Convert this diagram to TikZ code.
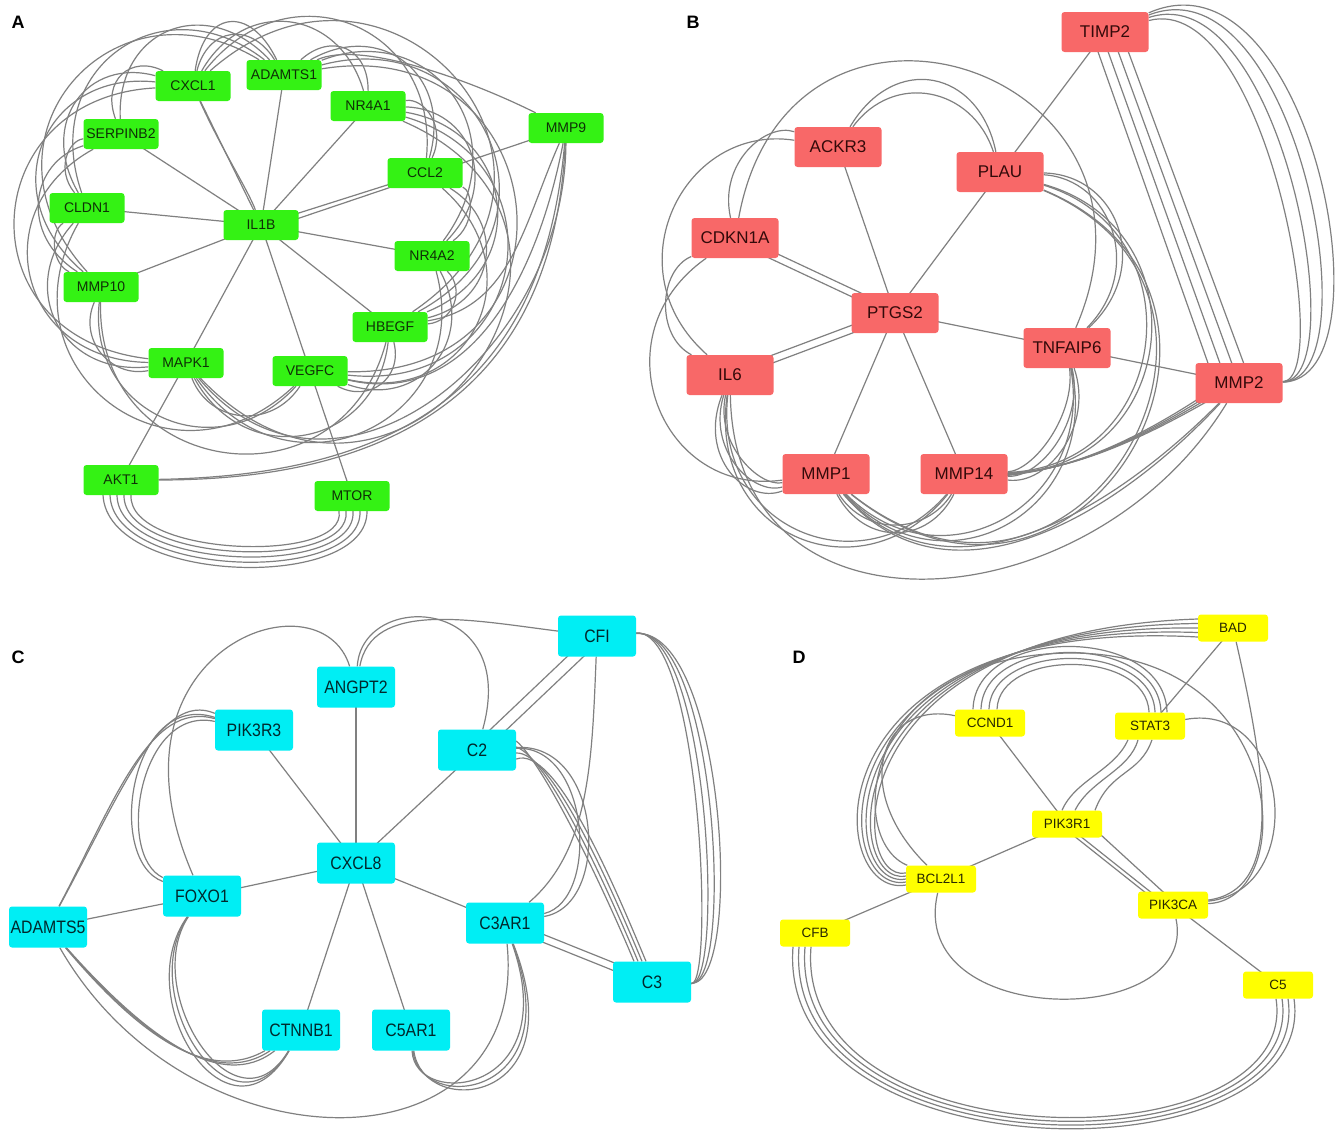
\documentclass[tikz,border=0pt]{standalone}
\usepackage{graphicx}
\usepackage{fontspec}
\setmainfont{Liberation Sans}
\usetikzlibrary{calc,backgrounds}
\definecolor{geneA}{RGB}{52,242,20}
\definecolor{geneB}{RGB}{248,104,104}
\definecolor{geneC}{RGB}{0,238,244}
\definecolor{geneD}{RGB}{255,255,0}
\definecolor{textA}{RGB}{14,48,6}
\definecolor{textB}{RGB}{52,10,10}
\definecolor{textC}{RGB}{0,40,44}
\definecolor{textD}{RGB}{40,40,0}
\definecolor{linkgray}{RGB}{128,128,128}

% curved link sweeping round the panel centre (\pcx,\pcy):
% #2,#3 nodes, #4,#5 start/end angles, #6 sweep radius
\newcommand\arcE[6][]{%
  \pgfmathsetmacro\lkh{4/3*tan((#5-#4)/4)*#6}%
  \pgfmathsetmacro\lkd{atan(\lkh/(#6))}%
  \pgfmathsetmacro\lkr{(#6)/cos(\lkd)}%
  \pgfmathsetmacro\lkax{\pcx+\lkr*\pex*cos(#4+\lkd)}%
  \pgfmathsetmacro\lkay{\pcy+\lkr*\pey*sin(#4+\lkd)}%
  \pgfmathsetmacro\lkbx{\pcx+\lkr*\pex*cos(#5-\lkd)}%
  \pgfmathsetmacro\lkby{\pcy+\lkr*\pey*sin(#5-\lkd)}%
  \draw[link,#1] (#2) .. controls (\lkax,\lkay) and (\lkbx,\lkby) .. (#3);%
}
\newcommand\cond[1]{\scalebox{0.88}[1]{#1}}

\begin{document}
\begin{tikzpicture}[x=1pt,y=-1pt,
  link/.style={draw=linkgray,line width=1.2pt},
  gene/.style={rounded corners=3pt,inner sep=0pt},
  gA/.style={gene,fill=geneA,text=textA,minimum width=75pt,minimum height=30pt,font=\fontsize{14}{14}\selectfont},
  gB/.style={gene,fill=geneB,text=textB,minimum width=87pt,minimum height=40pt,font=\fontsize{17}{17}\selectfont},
  gC/.style={gene,fill=geneC,text=textC,minimum width=78pt,minimum height=41pt,font=\fontsize{18}{18}\selectfont},
  gD/.style={gene,fill=geneD,text=textD,minimum width=70pt,minimum height=27pt,font=\fontsize{13.5}{13.5}\selectfont},
  panel/.style={font=\fontsize{18}{18}\selectfont\bfseries}]
\useasboundingbox (0,0) rectangle (1340,1130);

% ---------------- panel labels
\node[panel] (labA) at (18,22) {A};
\node[panel] (labB) at (693,22) {B};
\node[panel] (labC) at (18,657) {C};
\node[panel] (labD) at (799,657) {D};

% ---------------- panel A genes
\node[gA] (CXCL1) at (193,86) {CXCL1};
\node[gA] (ADAMTS1) at (284,75) {ADAMTS1};
\node[gA] (NR4A1) at (368,106) {NR4A1};
\node[gA] (SERPINB2) at (121,134) {SERPINB2};
\node[gA] (MMP9) at (566,128) {MMP9};
\node[gA] (CCL2) at (425,173) {CCL2};
\node[gA] (CLDN1) at (87,208) {CLDN1};
\node[gA] (IL1B) at (261,225) {IL1B};
\node[gA] (NR4A2) at (432,256) {NR4A2};
\node[gA] (MMP10) at (101,287) {MMP10};
\node[gA] (HBEGF) at (390,327) {HBEGF};
\node[gA] (MAPK1) at (186,363) {MAPK1};
\node[gA] (VEGFC) at (310,371) {VEGFC};
\node[gA] (AKT1) at (121,480) {AKT1};
\node[gA] (MTOR) at (352,496) {MTOR};

% ---------------- panel B genes
\node[gB] (TIMP2) at (1105,32) {TIMP2};
\node[gB] (ACKR3) at (838,147) {ACKR3};
\node[gB] (PLAU) at (1000,172) {PLAU};
\node[gB] (CDKN1A) at (735,238) {CDKN1A};
\node[gB] (PTGS2) at (895,313) {PTGS2};
\node[gB] (TNFAIP6) at (1067,348) {TNFAIP6};
\node[gB] (MMP2) at (1239,383) {MMP2};
\node[gB] (IL6) at (730,375) {IL6};
\node[gB] (MMP1) at (826,474) {MMP1};
\node[gB] (MMP14) at (964,474) {MMP14};

% ---------------- panel C genes
\node[gC] (CFI) at (597,636) {\cond{CFI}};
\node[gC] (ANGPT2) at (356,687) {\cond{ANGPT2}};
\node[gC] (PIK3R3) at (254,730) {\cond{PIK3R3}};
\node[gC] (C2) at (477,750) {\cond{C2}};
\node[gC] (CXCL8) at (356,863) {\cond{CXCL8}};
\node[gC] (FOXO1) at (202,896) {\cond{FOXO1}};
\node[gC] (ADAMTS5) at (48,927) {\cond{ADAMTS5}};
\node[gC] (C3AR1) at (505,923) {\cond{C3AR1}};
\node[gC] (C3) at (652,982) {\cond{C3}};
\node[gC] (CTNNB1) at (301,1030) {\cond{CTNNB1}};
\node[gC] (C5AR1) at (411,1030) {\cond{C5AR1}};

% ---------------- panel D genes
\node[gD] (BAD) at (1233,628) {BAD};
\node[gD] (CCND1) at (990,723) {CCND1};
\node[gD] (STAT3) at (1150,726) {STAT3};
\node[gD] (PIK3R1) at (1067,824) {PIK3R1};
\node[gD] (BCL2L1) at (941,879) {BCL2L1};
\node[gD] (PIK3CA) at (1173,905) {PIK3CA};
\node[gD] (CFB) at (815,933) {CFB};
\node[gD] (C5) at (1278,985) {C5};

\begin{pgfonlayer}{background}
\fill[white] (0,0) rectangle (1340,1130);

% ================= panel A links
\def\pcx{262}\def\pcy{232}\def\pex{1}\def\pey{0.95}
\foreach \n in {CXCL1,ADAMTS1,NR4A1,SERPINB2,CCL2,CLDN1,NR4A2,MMP10,HBEGF,MAPK1,VEGFC}
  \draw[link] (IL1B.center) -- (\n.center);
\draw[link] ([yshift=-6]IL1B.center) -- (MMP9.center);
\draw[link] (CXCL1) .. controls (222,150) and (248,190) .. (IL1B);
\draw[link] (AKT1.center) -- (MAPK1.center);
\draw[link] (VEGFC.center) -- (MTOR.center);
\draw[link] (MMP9) .. controls (470,80) and (360,40) .. (ADAMTS1);
\draw[link] (MMP9) .. controls (555,360) and (430,480) .. (AKT1);
\draw[link] (MMP9) .. controls (545,370) and (420,475) .. (AKT1);
\foreach \k in {0,...,4}
  \draw[link] ([xshift={-18+7*\k}]AKT1.south) .. controls ({108+5*\k},{585-7*\k}) and ({368-5*\k},{592-7*\k}) .. ([xshift={15-7*\k}]MTOR.south);
% left sweep
\arcE{ADAMTS1}{CXCL1}{278}{245}{218}
\arcE{ADAMTS1}{CXCL1}{278}{245}{236}
\arcE{ADAMTS1}{SERPINB2}{278}{215}{242}
\arcE{ADAMTS1}{CLDN1}{278}{189}{248}
\arcE{ADAMTS1}{MMP10}{278}{162}{252}
\arcE{CXCL1}{SERPINB2}{245}{215}{224}
\arcE{CXCL1}{CLDN1}{245}{189}{240}
\arcE{CXCL1}{MMP10}{245}{162}{246}
\arcE{CXCL1}{MAPK1}{245}{121}{250}
\arcE{SERPINB2}{CLDN1}{215}{189}{214}
\arcE{SERPINB2}{MMP10}{215}{162}{232}
\arcE{SERPINB2}{MAPK1}{215}{121}{242}
\arcE{CLDN1}{MMP10}{189}{162}{210}
\arcE{CLDN1}{MAPK1}{189}{121}{234}
% right sweep
\arcE{ADAMTS1}{NR4A1}{278}{309}{218}
\arcE{ADAMTS1}{CCL2}{278}{339}{238}
\arcE{ADAMTS1}{NR4A2}{278}{367}{246}
\arcE{ADAMTS1}{HBEGF}{278}{396}{250}
\arcE{ADAMTS1}{VEGFC}{278}{431}{252}
\arcE{CXCL1}{NR4A1}{245}{309}{232}
\arcE{CXCL1}{CCL2}{245}{339}{244}
\arcE{CXCL1}{HBEGF}{245}{396}{252}
\arcE{NR4A1}{CCL2}{309}{339}{212}
\arcE{NR4A1}{NR4A2}{309}{367}{232}
\arcE{NR4A1}{HBEGF}{309}{396}{242}
\arcE{NR4A1}{VEGFC}{309}{431}{248}
\arcE{NR4A1}{MAPK1}{309}{481}{250}
\arcE{CCL2}{NR4A2}{339}{367}{212}
\arcE{CCL2}{HBEGF}{339}{396}{232}
\arcE{CCL2}{VEGFC}{339}{431}{242}
\arcE{NR4A2}{HBEGF}{7}{36}{210}
\arcE{NR4A2}{VEGFC}{7}{71}{228}
\arcE{NR4A2}{MAPK1}{7}{121}{238}
% bottom sweep
\arcE{HBEGF}{VEGFC}{36}{71}{205}
\arcE{HBEGF}{MAPK1}{36}{121}{225}
\arcE{HBEGF}{MMP10}{36}{162}{238}
\arcE{VEGFC}{MAPK1}{71}{121}{200}
\arcE{VEGFC}{MMP10}{71}{162}{225}
\arcE{MAPK1}{MMP10}{121}{162}{210}
\arcE{VEGFC}{CLDN1}{71}{189}{240}
\arcE{MMP9}{MAPK1}{340}{481}{240}
\arcE{MMP9}{VEGFC}{340}{431}{244}
\arcE{MMP9}{HBEGF}{340}{396}{248}

% ================= panel B links
\def\pcx{885}\def\pcy{315}\def\pex{1}\def\pey{1}
\foreach \n in {ACKR3,PLAU,TNFAIP6,MMP1,MMP14}
  \draw[link] (PTGS2.center) -- (\n.center);
\draw[link] ([yshift=-4]PTGS2.center) -- ([yshift=-4]CDKN1A.center);
\draw[link] ([yshift=4]PTGS2.center) -- ([yshift=4]CDKN1A.center);
\draw[link] ([yshift=-4]PTGS2.center) -- ([yshift=-4]IL6.center);
\draw[link] ([yshift=4]PTGS2.center) -- ([yshift=4]IL6.center);
\draw[link] (TIMP2.center) -- (PLAU.center);
\draw[link] (TNFAIP6.center) -- (MMP2.center);
\foreach \k in {0,...,3}
  \draw[link] ([xshift={-14+10*\k}]TIMP2.center) -- ([xshift={-24+12*\k}]MMP2.center);
\foreach \k in {0,...,3}
  \draw[link] (TIMP2) .. controls ({1265+15*\k},{-10-16*\k}) and ({1335+20*\k},380) .. (MMP2);
\foreach \k in {0,...,3}
  \draw[link] ([yshift={-3+2*\k}]MMP14.center) .. controls (1060,{480+2*\k}) and ({1140+6*\k},{440-3*\k}) .. ([xshift={-8+6*\k},yshift=6]MMP2.center);
\arcE{ACKR3}{PLAU}{254}{309}{250}
\arcE{ACKR3}{PLAU}{254}{309}{232}
\arcE{ACKR3}{CDKN1A}{254}{207}{218}
\arcE{CDKN1A}{TNFAIP6}{207}{370}{256}
\arcE{ACKR3}{IL6}{254}{159}{240}
\arcE{CDKN1A}{IL6}{207}{159}{222}
\arcE{CDKN1A}{MMP1}{207}{110}{248}
\arcE{IL6}{MMP1}{159}{110}{205}
\arcE{IL6}{MMP1}{159}{110}{215}
\arcE{IL6}{MMP1}{159}{110}{226}
\arcE{IL6}{MMP14}{159}{64}{238}
\arcE{IL6}{MMP14}{159}{64}{246}
\arcE{IL6}{MMP2}{159}{11}{262}
\arcE{MMP1}{MMP14}{110}{64}{215}
\arcE{MMP1}{MMP14}{110}{64}{225}
\arcE{MMP1}{TNFAIP6}{110}{10}{240}
\arcE{MMP1}{TNFAIP6}{110}{10}{248}
\arcE{MMP1}{MMP2}{110}{11}{255}
\arcE{MMP1}{MMP2}{110}{11}{260}
\arcE{TNFAIP6}{MMP14}{10}{64}{205}
\arcE{TNFAIP6}{MMP14}{10}{64}{215}
\arcE{TNFAIP6}{MMP14}{10}{64}{225}
\arcE{PLAU}{TNFAIP6}{309}{370}{248}
\arcE{PLAU}{TNFAIP6}{309}{370}{256}
\arcE{PLAU}{MMP14}{309}{424}{262}
\arcE{PLAU}{MMP14}{309}{424}{268}
\arcE{PLAU}{MMP1}{309}{470}{272}
\arcE{PLAU}{MMP1}{309}{470}{276}

% ================= panel C links
\foreach \n in {ANGPT2,PIK3R3,C2,FOXO1,C3AR1,CTNNB1,C5AR1}
  \draw[link] (CXCL8.center) -- (\n.center);
\draw[link] (ADAMTS5.center) -- (FOXO1.center);
\draw[link] ([shift={(-4,-4)}]C2.center) -- ([shift={(-4,-4)}]CFI.center);
\draw[link] ([shift={(4,4)}]C2.center) -- ([shift={(4,4)}]CFI.center);
\draw[link] (CFI) .. controls (592,760) and (590,850) .. (C3AR1);
\draw[link] ([yshift=-4]C3AR1.center) -- ([yshift=-4]C3.center);
\draw[link] ([yshift=4]C3AR1.center) -- ([yshift=4]C3.center);
\foreach \k in {0,...,3}
  \draw[link] ([yshift={-9+6*\k}]C2.east) .. controls ({555-4*\k},{745+6*\k}) and ({612-4*\k},880) .. ([xshift={-6-4*\k}]C3.north);
\draw[link] (C2) .. controls (590,745) and (600,900) .. (C3AR1);
\draw[link] (C2) .. controls (602,742) and (612,905) .. (C3AR1);
\foreach \k in {0,...,3}
  \draw[link] (CFI) .. controls ({700+8*\k},628) and ({715+10*\k},985) .. (C3);
\draw[link] (ANGPT2) .. controls (372,600) and (470,620) .. (CFI);
\draw[link] (ANGPT2) .. controls (362,590) and (520,595) .. (C2);
\draw[link] (ANGPT2) .. controls (320,570) and (95,650) .. (FOXO1);
\draw[link] (PIK3R3) .. controls (130,690) and (105,860) .. (FOXO1);
\draw[link] (PIK3R3) .. controls (140,705) and (115,855) .. (FOXO1);
\draw[link] (ADAMTS5) .. controls (115,800) and (150,700) .. (PIK3R3);
\draw[link] (ADAMTS5) .. controls (120,795) and (160,690) .. (PIK3R3);
\foreach \k in {0,...,2}
  \draw[link] (FOXO1) .. controls ({140-6*\k},{990+5*\k}) and ({235-3*\k},{1140+8*\k}) .. (CTNNB1);
\foreach \k in {0,...,2}
  \draw[link] (ADAMTS5) .. controls ({135+5*\k},{1030+3*\k}) and ({205+8*\k},{1085+4*\k}) .. (CTNNB1);
\draw[link] (ADAMTS5) .. controls (190,1175) and (530,1175) .. (C3AR1);
\foreach \k in {0,...,2}
  \draw[link] (C5AR1) .. controls ({415+4*\k},{1110+5*\k}) and ({565+6*\k},{1095+5*\k}) .. (C3AR1);

% ================= panel D links
\foreach \n in {CCND1,BCL2L1}
  \draw[link] (PIK3R1.center) -- (\n.center);
\draw[link] (CFB.center) -- (BCL2L1.center);
\draw[link] (PIK3CA.center) -- (C5.center);
\draw[link] (STAT3.center) -- (BAD.center);
\draw[link] (BAD) .. controls (1270,790) and (1280,890) .. (PIK3CA);
\draw[link] ([xshift=-8]PIK3R1.center) -- ([xshift=-12]PIK3CA.center);
\draw[link] ([xshift=-2]PIK3R1.center) -- ([xshift=-6]PIK3CA.center);
\draw[link] ([shift={(22,0)}]PIK3R1.center) -- ([shift={(0,-4)}]PIK3CA.center);
\draw[link] ([xshift=-5]PIK3R1.north) .. controls (1075,780) and (1115,770) .. ([xshift=-22]STAT3.south);
\draw[link] ([xshift=8]PIK3R1.north) .. controls (1090,780) and (1130,770) .. ([xshift=-12]STAT3.south);
\draw[link] ([xshift=28]PIK3R1.north) .. controls (1110,770) and (1140,775) .. ([xshift=2]STAT3.south);
\foreach \k in {0,...,3}
  \draw[link] ([xshift={-17+8*\k}]CCND1.north) .. controls ({975+8*\k},{625+8*\k}) and ({1165-6*\k},{625+8*\k}) .. ([xshift={17-6*\k}]STAT3.north);
\foreach \k in {0,...,4}
  \draw[link] ([yshift={-9+4.5*\k}]BAD.west) .. controls ({800+8*\k},{615+4*\k}) and ({825+6*\k},{900-4*\k}) .. ([yshift={-6+3*\k}]BCL2L1.west);
\draw[link] (BCL2L1) .. controls (850,790) and (880,700) .. (CCND1);
\draw[link] (BCL2L1) .. controls (845,840) and (860,655) .. (1070,653) .. controls (1290,652) and (1300,900) .. (PIK3CA);
\draw[link] (STAT3) .. controls (1290,700) and (1310,890) .. (PIK3CA);
\draw[link] (BCL2L1) .. controls (905,1030) and (1200,1030) .. (PIK3CA);
\foreach \k in {0,...,3}
  \draw[link] ([xshift={-22+6*\k}]CFB.south) .. controls ({775+6*\k},{1180-5*\k}) and ({1320-6*\k},{1180-5*\k}) .. ([xshift={16-6*\k}]C5.south);
\end{pgfonlayer}
\end{tikzpicture}
\end{document}
